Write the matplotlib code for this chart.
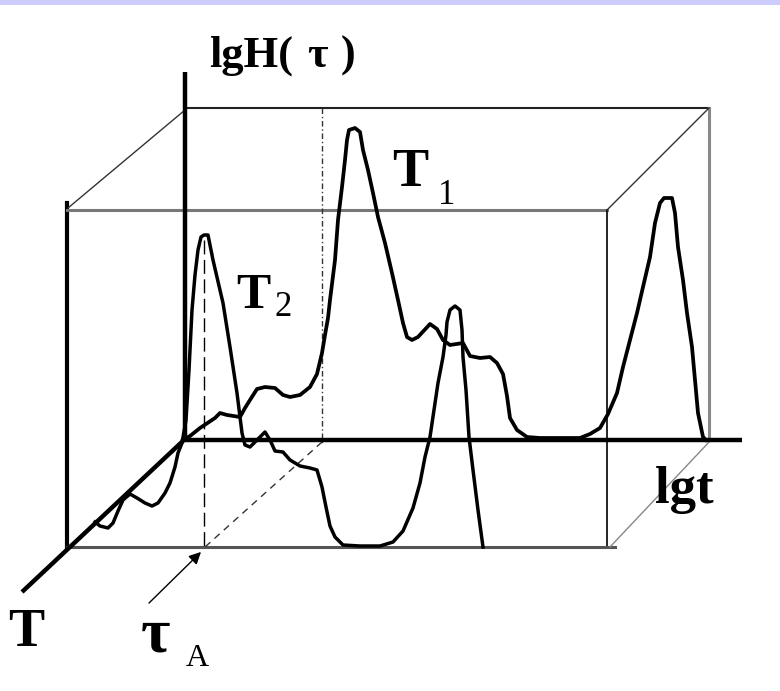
import matplotlib.pyplot as plt

# --- diagram geometry, in picture pixels (x right, y down) ---
# back face of the box
back_x = [185, 709, 709]
back_y = [108, 108, 440]
# front face of the box
front_left_x = [67, 67]
front_left_y = [203, 547]
front_top_x = [67, 607]
front_top_y = [210, 210]
front_right_x = [607, 607]
front_right_y = [210, 547]
front_bottom_x = [67, 615]
front_bottom_y = [547, 547]
# depth edges
edge_tl_x, edge_tl_y = [185, 68], [110, 208]
edge_tr_x, edge_tr_y = [709, 607], [108, 210]
edge_br_x, edge_br_y = [711, 610], [440, 547]

# axes of the sketch
axis_h_x, axis_h_y = [185, 185], [72, 440]      # lgH(tau)
axis_t_x, axis_t_y = [185, 742], [440, 440]     # lgt
axis_T_x, axis_T_y = [184, 22], [440, 592]      # T

# curve at T1 (back plane)
curve1_x = [183, 190, 200, 215, 220, 227, 240, 245, 250, 257, 265, 275, 283, 290,
            300, 310, 317, 322, 325, 328, 330, 335, 338, 342, 345, 347, 349, 355,
            360, 363, 368, 373, 378, 385, 392, 398, 403, 407, 412, 418, 430, 437,
            443, 450, 463, 470, 480, 490, 497, 503, 507, 510, 517, 527, 540, 580,
            590, 600, 608, 617, 623, 630, 637, 643, 650, 655, 660, 664, 672, 675,
            678, 683, 687, 692, 695, 698, 703, 706]
curve1_y = [440, 436, 428, 418, 413, 415, 417, 408, 400, 389, 387, 388, 395, 397,
            395, 387, 374, 353, 335, 318, 300, 260, 220, 187, 160, 140, 130, 128,
            132, 150, 170, 193, 217, 243, 273, 300, 323, 337, 340, 337, 324, 329,
            340, 345, 343, 356, 358, 357, 363, 374, 396, 418, 430, 437, 438, 438,
            434, 428, 414, 393, 367, 340, 313, 287, 257, 223, 203, 198, 198, 213,
            247, 280, 313, 347, 380, 413, 437, 440]

# curve at T2 (front plane)
curve2_x = [95, 100, 108, 113, 118, 123, 130, 137, 145, 152, 158, 165, 170, 175,
            178, 182, 186, 189, 192, 195, 198, 201, 204, 208, 213, 223, 230, 237,
            240, 242, 245, 250, 255, 265, 270, 275, 283, 290, 300, 310, 317, 322,
            326, 330, 335, 343, 360, 380, 393, 403, 413, 420, 425, 430, 434, 438,
            443, 446, 447, 450, 455, 460, 462, 463, 466, 469, 473, 478, 483]
curve2_y = [522, 526, 528, 523, 511, 500, 494, 498, 503, 506, 503, 493, 483, 467,
            453, 443, 420, 370, 310, 275, 250, 237, 235, 235, 260, 303, 347, 393,
            417, 433, 445, 447, 442, 432, 440, 451, 452, 460, 466, 468, 470, 487,
            507, 526, 537, 545, 546, 546, 542, 531, 508, 483, 457, 437, 410, 383,
            357, 335, 322, 310, 306, 310, 330, 357, 390, 437, 470, 510, 547]

# construction lines for tau_A
guide_v_x, guide_v_y = [322, 322], [108, 444]
guide_d_x, guide_d_y = [322, 205], [442, 547]
tau_v_x, tau_v_y = [204, 204], [240, 547]
arrow_from = (147, 605)
arrow_to = (203, 550)

fig = plt.figure(figsize=(7.8, 6.91), dpi=100)
ax = fig.add_axes([0, 0, 1, 1])
ax.set_xlim(0, 780)
ax.set_ylim(691, 0)
ax.axis('off')

# lavender band at the top
ax.axhspan(0, 5, color='#ccccff', lw=0)

# box
ax.plot(back_x[:2], back_y[:2], color='#222222', lw=1.5)
ax.plot(back_x[1:], back_y[1:], color='#888888', lw=2.2)
ax.plot(front_left_x, front_left_y, color='black', lw=3.0)
ax.plot(front_top_x, front_top_y, color='#777777', lw=2.2)
ax.plot(front_right_x, front_right_y, color='black', lw=1.2)
ax.plot(front_bottom_x, front_bottom_y, color='#555555', lw=2.2)
ax.plot(edge_tl_x, edge_tl_y, color='#333333', lw=1.0)
ax.plot(edge_tr_x, edge_tr_y, color='#333333', lw=1.0)
ax.plot(edge_br_x, edge_br_y, color='#888888', lw=1.0)

# guides
ax.plot(guide_v_x, guide_v_y, color='#333333', lw=1.0, ls=(0, (4, 2, 1, 2)))
ax.plot(guide_d_x, guide_d_y, color='#333333', lw=1.0, ls=(0, (5, 4)))
ax.plot(tau_v_x, tau_v_y, color='black', lw=1.0, ls=(0, (10, 4)))

# sketch axes
for xs, ys in [(axis_h_x, axis_h_y), (axis_t_x, axis_t_y), (axis_T_x, axis_T_y)]:
    ax.plot(xs, ys, color='black', lw=3.2, solid_capstyle='butt')

# curves
ax.plot(curve1_x, curve1_y, color='black', lw=2.7, solid_joinstyle='round')
ax.plot(curve2_x, curve2_y, color='black', lw=2.5, solid_joinstyle='round')

ax.annotate('', xy=arrow_to, xytext=arrow_from,
            arrowprops=dict(arrowstyle='-|>', color='black', lw=1.0,
                            mutation_scale=18))

serif = 'Liberation Serif'
# lgH(tau)
ax.text(209, 67, 'lgH(', fontsize=32, fontweight='bold', family=serif, va='baseline')
ax.text(307, 67, 'τ', fontsize=32, fontweight='bold', family=serif, va='baseline')
ax.text(341, 67, ')', fontsize=32, fontweight='bold', family=serif, va='baseline')
# T1, T2
ax.text(392, 186, 'T', fontsize=39, fontweight='bold', family=serif, va='baseline')
ax.text(438, 204, '1', fontsize=25, family=serif, va='baseline')
ax.text(236, 308, 'T', fontsize=37, fontweight='bold', family=serif, va='baseline')
ax.text(274, 316, '2', fontsize=25, family=serif, va='baseline')
# lgt, T, tau_A
ax.text(655, 503, 'lgt', fontsize=38, fontweight='bold', family=serif, va='baseline')
ax.text(8, 646, 'T', fontsize=39, fontweight='bold', family=serif, va='baseline')
ax.text(141, 652, 'τ', fontsize=46, fontweight='bold', family=serif, va='baseline')
ax.text(186, 666, 'A', fontsize=23, family=serif, va='baseline')

fig.savefig('out.png', dpi=100)
